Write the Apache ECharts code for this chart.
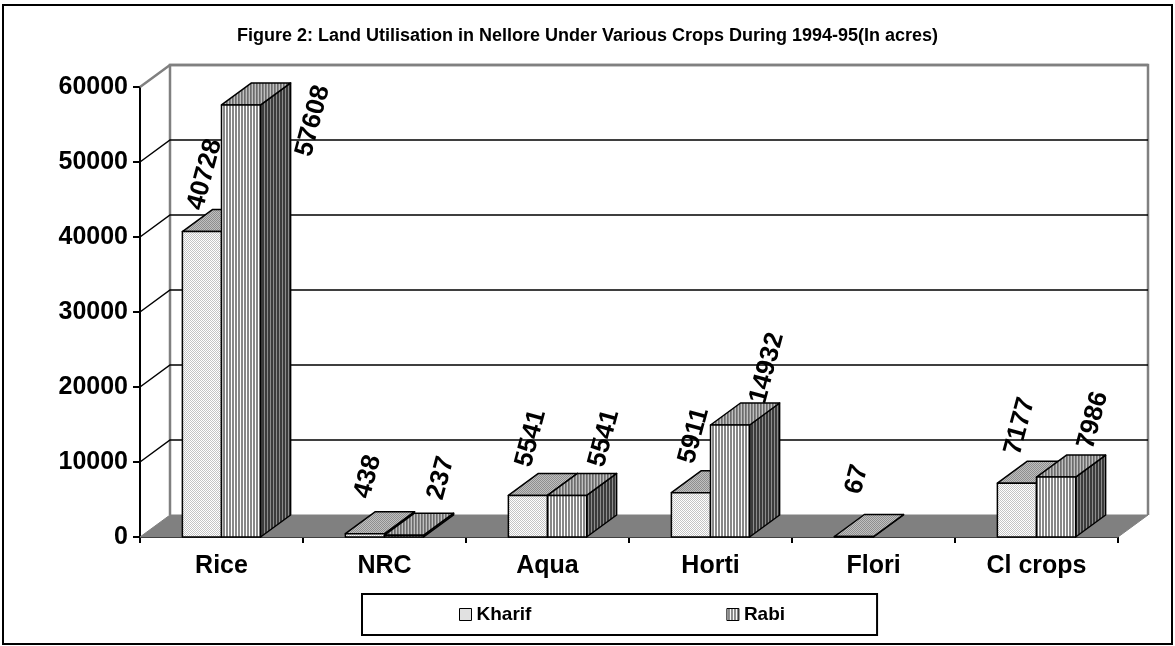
<!DOCTYPE html>
<html lang="en">

<head>
    <meta charset="UTF-8" />
    <title>Land Utilisation in Nellore</title>
    <script src="https://cdn.jsdelivr.net/npm/echarts@6/dist/echarts.min.js"></script>
    <style>
        * {
            margin: 0;
        }

        #chartContainer {
            width: 1175px;
            height: 646px;
            background-color: #ffffff;
        }
    </style>
</head>

<body>
    <div id="chartContainer"></div>
    <script>
        const titleText = "Figure 2: Land Utilisation in Nellore Under Various Crops During 1994-95(In acres)";
        const categories = ["Rice", "NRC", "Aqua", "Horti", "Flori", "Cl crops"];
        const kharifValues = [40728, 438, 5541, 5911, 67, 7177];
        const rabiValues = [57608, 237, 5541, 14932, null, 7986];
        const yTicks = [0, 10000, 20000, 30000, 40000, 50000, 60000];

        const FONT = "'Liberation Sans', Arial, sans-serif";
        const DX = 30;
        const DY = -22;

        // small canvas tiles used as pattern fills
        function makePattern(cols, vertical) {
            const c = document.createElement("canvas");
            if (vertical) {
                c.width = cols.length;
                c.height = 4;
                const ctx = c.getContext("2d");
                cols.forEach((col, i) => {
                    ctx.fillStyle = col;
                    ctx.fillRect(i, 0, 1, 4);
                });
            } else {
                c.width = 2;
                c.height = 2;
                const ctx = c.getContext("2d");
                ctx.fillStyle = cols[0];
                ctx.fillRect(0, 0, 2, 2);
                ctx.fillStyle = cols[1];
                ctx.fillRect(0, 0, 1, 1);
                ctx.fillRect(1, 1, 1, 1);
            }
            return { image: c, repeat: "repeat" };
        }

        const kharifFill = {
            front: makePattern(["#ffffff", "#c4c4c4"], false),
            top: makePattern(["#c0c0c0", "#8e8e8e"], false),
            side: makePattern(["#808080", "#5a5a5a"], false),
        };
        const rabiFill = {
            front: makePattern(["#ffffff", "#888888", "#888888"], true),
            top: makePattern(["#c0c0c0", "#6c6c6c", "#888888"], true),
            side: makePattern(["#8c8c8c", "#3c3c3c", "#3c3c3c"], true),
        };

        function wallItem(params, api) {
            const cs = params.coordSys;
            const v = api.value(0);
            const x0 = cs.x;
            const x1 = cs.x + cs.width;
            const y = api.coord([0, v])[1];
            const children = [];
            if (v === 0) {
                children.push({
                    type: "polygon",
                    shape: { points: [[x0, y], [x1, y], [x1 + DX, y + DY], [x0 + DX, y + DY]] },
                    style: { fill: "#808080", stroke: "#808080", lineWidth: 1 },
                });
                children.push({
                    type: "polyline",
                    shape: { points: [[x0 + DX, y + DY], [x0 + DX, cs.y + DY], [x1 + DX, cs.y + DY], [x1 + DX, y + DY]] },
                    style: { fill: null, stroke: "#808080", lineWidth: 2.5 },
                });
                return { type: "group", children: children };
            }
            const top = v === yTicks[yTicks.length - 1];
            children.push({
                type: "polyline",
                shape: { points: [[x0, y], [x0 + DX, y + DY], [x1 + DX, y + DY]] },
                style: { fill: null, stroke: top ? "#808080" : "#000", lineWidth: top ? 2.5 : 1.5 },
            });
            return { type: "group", children: children };
        }

        function makeBarItem(side, fills) {
            return function (params, api) {
                const ci = api.value(0);
                const v = api.value(1);
                if (v == null || isNaN(v)) return;
                const base = api.coord([ci, 0]);
                const topY = api.coord([ci, v])[1];
                const botY = base[1];
                const bw = api.size([1, 0])[0] * 0.24;
                const xl = side === 0 ? base[0] - bw : base[0];
                const xr = xl + bw;
                const edge = { stroke: "#000", lineWidth: 1.5, lineJoin: "round" };
                const zb = side === 0 ? 0 : 10;

                // label above the bar, moved to the side when it would leave the plot
                let lx = xl + bw / 2 + (side === 0 ? 3 : 37);
                let ly = topY - 57;
                if (ly - 40 < params.coordSys.y - 50) {
                    lx = xl + bw / 2 + 72;
                    ly = topY + 16;
                }

                return {
                    type: "group",
                    children: [
                        {
                            type: "polygon",
                            z2: zb,
                            shape: { points: [[xr, topY], [xr + DX, topY + DY], [xr + DX, botY + DY], [xr, botY]] },
                            style: Object.assign({ fill: fills.side }, edge),
                        },
                        {
                            type: "polygon",
                            z2: zb + 1,
                            shape: { points: [[xl, topY], [xr, topY], [xr + DX, topY + DY], [xl + DX, topY + DY]] },
                            style: Object.assign({ fill: fills.top }, edge),
                        },
                        {
                            type: "rect",
                            z2: zb + 2,
                            shape: { x: xl, y: topY, width: bw, height: botY - topY },
                            style: Object.assign({ fill: fills.front }, edge),
                        },
                        {
                            type: "text",
                            z2: 50,
                            x: lx,
                            y: ly,
                            rotation: (75 * Math.PI) / 180,
                            style: {
                                text: String(v),
                                x: 0,
                                y: 0,
                                align: "center",
                                verticalAlign: "middle",
                                fill: "#000",
                                fontSize: 26,
                                fontWeight: "bold",
                                fontFamily: FONT,
                            },
                        },
                    ],
                };
            };
        }

        function initChart() {
            const myChart = echarts.init(document.getElementById("chartContainer"));
            const option = {
                animation: false,
                title: {
                    text: titleText,
                    left: "center",
                    top: 22,
                    textStyle: { fontFamily: FONT, fontSize: 18, fontWeight: "bold", color: "#000" },
                },
                graphic: [
                    {
                        type: "rect",
                        shape: { x: 3, y: 5, width: 1169, height: 639 },
                        style: { fill: null, stroke: "#000", lineWidth: 2 },
                    },
                ],
                legend: {
                    data: [
                        { name: "Kharif", itemStyle: { color: kharifFill.front, borderColor: "#000", borderWidth: 1 } },
                        { name: "Rabi", itemStyle: { color: rabiFill.front, borderColor: "#000", borderWidth: 1 } },
                    ],
                    left: 362,
                    top: 594,
                    orient: "horizontal",
                    icon: "rect",
                    itemWidth: 12,
                    itemHeight: 12,
                    itemGap: 195,
                    padding: [11, 92, 11, 97],
                    borderColor: "#000",
                    borderWidth: 2,
                    borderRadius: 0,
                    selectedMode: false,
                    textStyle: { fontFamily: FONT, fontSize: 19, fontWeight: "bold", color: "#000" },
                },
                grid: { left: 140, right: 57, top: 87, bottom: 109 },
                xAxis: {
                    type: "category",
                    data: categories,
                    axisLine: { lineStyle: { color: "#000", width: 2 } },
                    axisTick: { show: true, length: 6, lineStyle: { color: "#000", width: 2 } },
                    axisLabel: { fontFamily: FONT, fontSize: 25, fontWeight: "bold", color: "#000", margin: 17 },
                    splitLine: { show: false },
                },
                yAxis: {
                    type: "value",
                    min: 0,
                    max: 60000,
                    interval: 10000,
                    axisLine: { show: true, lineStyle: { color: "#000", width: 2 } },
                    axisTick: { show: true, length: 7, lineStyle: { color: "#000", width: 2 } },
                    axisLabel: {
                        fontFamily: FONT,
                        fontSize: 25,
                        fontWeight: "bold",
                        color: "#000",
                        margin: 12,
                        formatter: (val) => String(val),
                    },
                    splitLine: { show: false },
                },
                series: [
                    {
                        name: "wall",
                        type: "custom",
                        z: 1,
                        silent: true,
                        data: yTicks.map((v) => [v]),
                        dimensions: ["v"],
                        encode: { y: 0 },
                        renderItem: wallItem,
                    },
                    {
                        name: "Kharif",
                        type: "custom",
                        z: 2,
                        itemStyle: { color: kharifFill.front },
                        data: kharifValues.map((v, i) => [i, v]),
                        encode: { x: 0, y: 1 },
                        renderItem: makeBarItem(0, kharifFill),
                    },
                    {
                        name: "Rabi",
                        type: "custom",
                        z: 2,
                        itemStyle: { color: rabiFill.front },
                        data: rabiValues.map((v, i) => [i, v]),
                        encode: { x: 0, y: 1 },
                        renderItem: makeBarItem(1, rabiFill),
                    },
                ],
            };
            myChart.setOption(option);
        }

        initChart();
    </script>
</body>

</html>
